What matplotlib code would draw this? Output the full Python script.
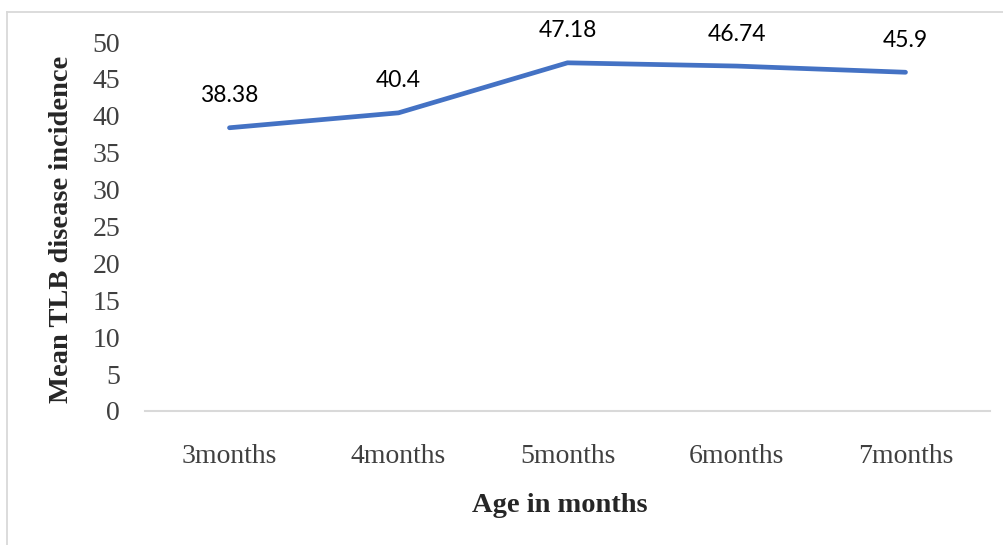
import matplotlib
matplotlib.use("Agg")
import matplotlib.pyplot as plt
from matplotlib.lines import Line2D

# Mean Turcicum leaf blight incidence by plant age
ages = ["3months", "4months", "5months", "6months", "7months"]
incidence = [38.38, 40.4, 47.18, 46.74, 45.9]
y_ticks = [0, 5, 10, 15, 20, 25, 30, 35, 40, 45, 50]

W, H = 1004, 545
fig = plt.figure(figsize=(W / 100, H / 100), dpi=100)
fig.patch.set_facecolor("white")

# light chart-area frame (left and top edges fall inside the canvas)
frame_x, frame_y = 7.5 / W, 1 - 11.5 / H
fig.lines.append(Line2D([frame_x, frame_x], [0, frame_y], transform=fig.transFigure,
                        color="#d9d9d9", linewidth=1.3))
fig.lines.append(Line2D([frame_x, 1], [frame_y, frame_y], transform=fig.transFigure,
                        color="#d9d9d9", linewidth=1.3))

ax = fig.add_axes([145 / W, 1 - 411 / H, (990 - 145) / W, (411 - 42) / H])
x = list(range(len(ages)))
ax.plot(x, incidence, color="#4472C4", linewidth=3.4, solid_capstyle="round",
        solid_joinstyle="round", zorder=3)

for xi, v in zip(x, incidence):
    ax.annotate(f"{v:g}", (xi, v), xytext=(0, 23), textcoords="offset points",
                ha="center", va="center", fontsize=16.5, family="Lato",
                color="black", annotation_clip=False)

ax.set_xlim(-0.5, len(ages) - 0.5)
ax.set_ylim(0, 50)
ax.set_xticks(x)
ax.set_xticklabels(ages)
ax.set_yticks(y_ticks)
ax.set_yticklabels([str(t) for t in y_ticks])

for s in ("top", "right", "left"):
    ax.spines[s].set_visible(False)
ax.spines["bottom"].set_color("#d9d9d9")
ax.spines["bottom"].set_linewidth(1.5)

ax.tick_params(axis="both", length=0, labelsize=20, labelcolor="#404040")
ax.tick_params(axis="x", pad=24)
ax.tick_params(axis="y", pad=18)
for lab in ax.get_xticklabels() + ax.get_yticklabels():
    lab.set_family("Liberation Serif")

fig.text(560 / W, 1 - 505 / H, "Age in months", ha="center", va="center",
         fontsize=20.5, fontweight="bold", family="Liberation Serif", color="#262626")
fig.text(62 / W, 1 - 229 / H, "Mean TLB disease incidence", ha="center", va="center",
         rotation=90, fontsize=20.5, fontweight="bold", family="Liberation Serif",
         color="#262626")

fig.savefig("out.png", dpi=100, facecolor="white")
